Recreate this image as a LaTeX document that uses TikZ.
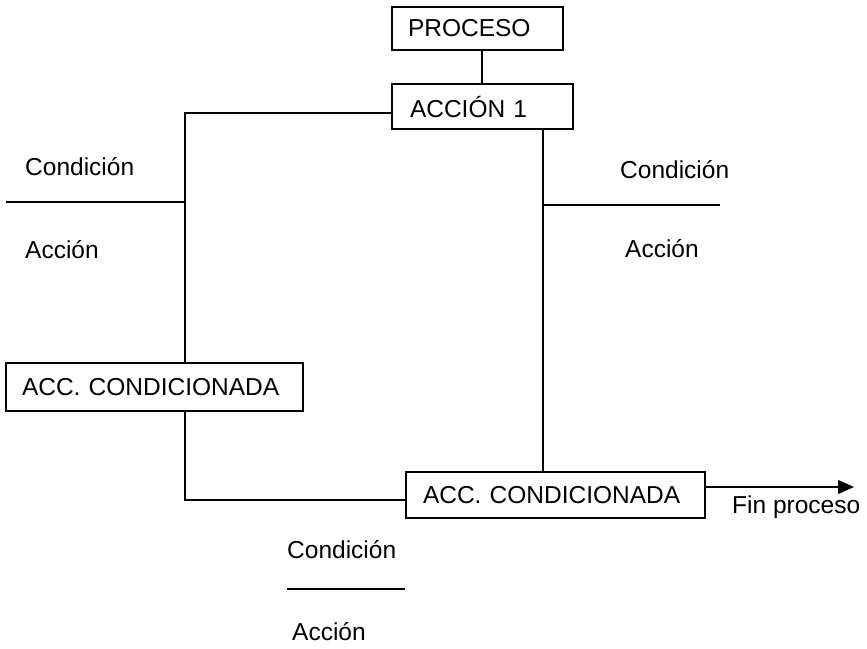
\documentclass[tikz,border=0pt]{standalone}
\usepackage{fontspec}
\setmainfont{Liberation Sans}
\usetikzlibrary{arrows.meta,calc}
\begin{document}
\begin{tikzpicture}[x=1pt,y=-1pt,
  every node/.style={font=\fontsize{24.5}{29}\selectfont, inner sep=0pt},
  box/.style={draw, line width=1.2pt, align=left},
  lbl/.style={anchor=base west},
  conn/.style={line width=1.3pt}]
\useasboundingbox (0,0) rectangle (867,648);
% boxes
\node[box, text width=139pt, inner xsep=16pt, minimum height=43pt] (proc) at (477.5,28.5) {PROCESO};
\node[box, text width=145pt, inner xsep=18pt, minimum height=45pt] (acc1) at (482.5,106.5) {ACCIÓN 1};
\node[box, text width=265pt, inner xsep=16pt, minimum height=48pt] (accL) at (154.5,387) {ACC. CONDICIONADA};
\node[box, text width=265pt, inner xsep=17pt, minimum height=46pt] (accB) at (555.5,495) {ACC. CONDICIONADA};
% helper coordinates
\coordinate (xP) at (482,0);
\coordinate (jL) at (185,113);
\coordinate (jB) at (185,500);
\coordinate (xR) at (543,205);
\coordinate (hRe) at (720,205);
\coordinate (hLs) at (6,202);
\coordinate (hBs) at (287,589);
\coordinate (hBe) at (405,589);
\coordinate (fin) at (854,487);
% connectors
\draw[conn] (proc.south -| xP) -- (acc1.north -| xP);
\draw[conn] (acc1.west |- jL) -| (accL.north -| jL);
\draw[conn] (accL.south -| jB) |- (accB.west |- jB);
\draw[conn] (acc1.south -| xR) -- (accB.north -| xR);
\draw[conn] (xR) -- (hRe);
\draw[conn] (hLs) -- (hLs -| jL);
\draw[conn] (hBs) -- (hBe);
\draw[conn, -{Triangle[length=16pt,width=14pt]}] (accB.east |- fin) -- (fin);
% labels
\node[lbl] (c1) at (25,175) {Condición};
\node[lbl] (a1) at (25,258) {Acción};
\node[lbl] (c2) at (620,178) {Condición};
\node[lbl] (a2) at (625,257) {Acción};
\node[lbl] (c3) at (287,558) {Condición};
\node[lbl] (a3) at (292,640) {Acción};
\node[lbl] (finp) at (732,513) {Fin proceso};
\end{tikzpicture}
\end{document}
